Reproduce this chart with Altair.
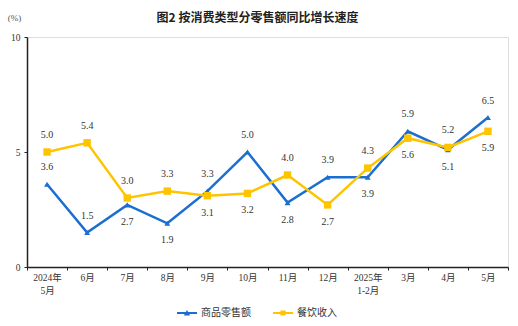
import altair as alt
import pandas as pd

months = ["2024年|5月", "6月", "7月", "8月", "9月", "10月", "11月", "12月",
          "2025年|1-2月", "3月", "4月", "5月"]
series = ["商品零售额", "餐饮收入"]
goods = [3.6, 1.5, 2.7, 1.9, 3.3, 5.0, 2.8, 3.9, 3.9, 5.9, 5.1, 6.5]
catering = [5.0, 5.4, 3.0, 3.3, 3.1, 3.2, 4.0, 2.7, 4.3, 5.6, 5.2, 5.9]
goods_side = ["above", "above", "below", "below", "above", "above",
              "below", "above", "below", "above", "below", "above"]
catering_side = ["above", "above", "above", "above", "below", "below",
                 "above", "below", "above", "below", "above", "below"]

rows = []
for m, v, s in zip(months, goods, goods_side):
    rows.append({"month": m, "value": v, "series": series[0], "side": s})
for m, v, s in zip(months, catering, catering_side):
    rows.append({"month": m, "value": v, "series": series[1], "side": s})
df = pd.DataFrame(rows)

BLUE = "#1a6fd0"
YELLOW = "#ffc400"
FONT = "Liberation Serif, Noto Sans CJK SC"

color_scale = alt.Scale(domain=series, range=[BLUE, YELLOW])
legend = alt.Legend(
    title=None, orient="none", direction="horizontal", legendX=150, legendY=266,
    labelFont=FONT, labelFontSize=10, labelColor="#333", symbolSize=400,
    symbolOpacity=1, symbolStrokeWidth=0, columnPadding=22, labelOffset=4,
)
color = alt.Color("series:N", scale=color_scale, legend=legend)
shape = alt.Shape(
    "series:N",
    scale=alt.Scale(
        domain=series,
        range=[
            "M-1,-0.09H1V0.09H-1Z M-0.32,0.26L0,-0.3L0.32,0.26Z",
            "M-1,-0.09H1V0.09H-1Z M-0.26,-0.26H0.26V0.26H-0.26Z",
        ],
    ),
    legend=legend,
)

x = alt.X(
    "month:N", sort=months, bandPosition=0.5,
    scale=alt.Scale(type="band", paddingInner=0, paddingOuter=0),
    axis=alt.Axis(
        title=None,
        labelExpr="isValid(datum.value) ? split(datum.value, '|') : ''",
        labelAngle=0,
        tickBand="extent", tickSize=3, tickColor="#222", domainColor="#222",
        domainWidth=1.5, labelFont=FONT, labelFontSize=9.5, labelColor="#333",
        labelPadding=2, grid=False, labelLineHeight=13,
    ),
)
y = alt.Y(
    "value:Q", scale=alt.Scale(domain=[0, 10], nice=False),
    axis=alt.Axis(
        title="(%)", titleAngle=0, titleX=-13, titleY=-20, titleAlign="center",
        titleBaseline="middle", titleFont=FONT, titleFontSize=9,
        titleFontWeight="normal", titleColor="#555",
        values=[0, 5, 10], tickSize=3, tickColor="#222", domainColor="#222",
        domainWidth=1.5, labelFont=FONT, labelFontSize=9.5, labelColor="#333",
        labelPadding=4, grid=False,
    ),
)

base = alt.Chart(df)
legend_layer = base.mark_point(filled=True, opacity=0).encode(
    x=x, y=y, color=color, shape=shape)
lines = base.mark_line(strokeWidth=2.5).encode(x=x, y=y, color=color)
tri = base.transform_filter(alt.datum.series == series[0]).mark_point(
    filled=True, shape="triangle-up", size=35, opacity=1).encode(
    x=x, y=y, color=color)
sq = base.transform_filter(alt.datum.series == series[1]).mark_point(
    filled=True, shape="square", size=55, opacity=1).encode(
    x=x, y=y, color=color)
text_style = dict(font=FONT, fontSize=10, color="#333", baseline="middle")
above = base.transform_filter(alt.datum.side == "above").mark_text(
    dy=-17, **text_style).encode(x=x, y=y, text=alt.Text("value:Q", format=".1f"))
below = base.transform_filter(alt.datum.side == "below").mark_text(
    dy=17, **text_style).encode(x=x, y=y, text=alt.Text("value:Q", format=".1f"))

chart = alt.layer(legend_layer, lines, tri, sq, above, below).properties(
    width=481, height=230,
    autosize=alt.AutoSizeParams(type="none"),
    padding={"left": 27, "top": 37, "right": 10, "bottom": 59},
    title=alt.TitleParams(
        "图2 按消费类型分零售额同比增长速度", font="Noto Sans CJK SC",
        fontSize=12, fontWeight="bold", color="#222", anchor="middle",
        frame="group", dx=-10, offset=-12,
    ),
).configure_view(stroke=None).configure(background="white")

chart.save("out.html", embed_options={"renderer": "svg", "actions": False})
